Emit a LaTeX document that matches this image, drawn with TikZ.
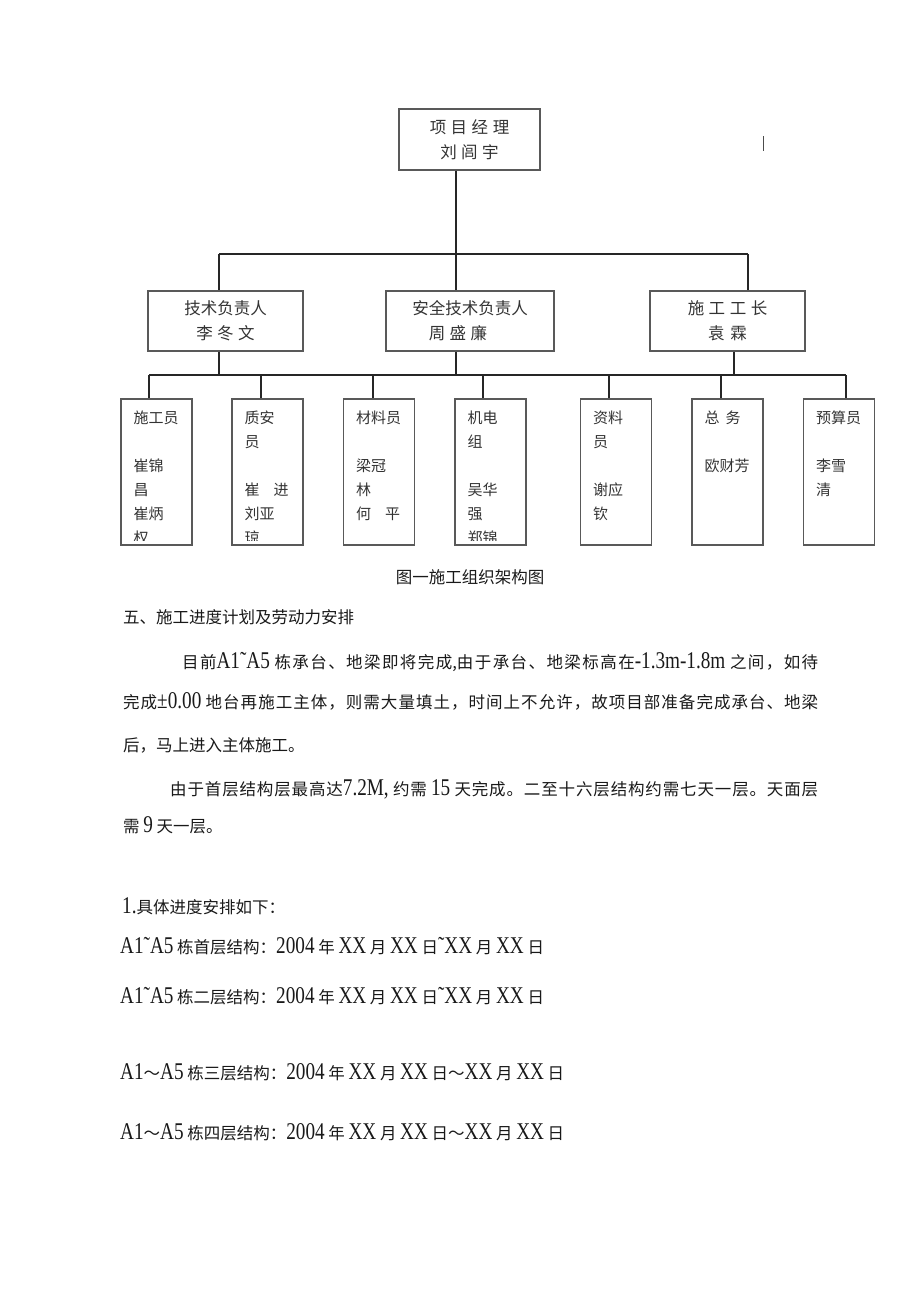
\documentclass[tikz,border=0pt]{standalone}
\usepackage{fontspec}
\setmainfont{Liberation Serif}
\newfontfamily\cjk{Noto Sans CJK SC}
\newfontfamily\latn{Liberation Serif}[FakeStretch=0.8]
\newcommand{\ltn}[1]{{\latn\fontsize{24}{20}\selectfont #1}}
\newcommand{\gp}{\hspace{4.5pt}}
% glue between CJK characters, so that a line can be spread to a given width
\chardef\cjkcls=7
\makeatletter
\count@="4E00 \loop\ifnum\count@<"A000 \XeTeXcharclass\count@=\cjkcls \advance\count@ by 1 \repeat
\count@="3000 \loop\ifnum\count@<"3040 \XeTeXcharclass\count@=\cjkcls \advance\count@ by 1 \repeat
\count@="FF00 \loop\ifnum\count@<"FFF0 \XeTeXcharclass\count@=\cjkcls \advance\count@ by 1 \repeat
\makeatother
\XeTeXinterchartoks\cjkcls\cjkcls={\hskip0pt plus 3pt minus 0.3pt\relax}
\XeTeXinterchartokenstate=1

\begin{document}
\begin{tikzpicture}[x=1pt,y=-1pt,
  box/.style={draw=black!65, line width=1.1pt, inner sep=0pt, align=center, text=black!80,
    font=\cjk\fontsize{16.5}{25}\selectfont},
  staff/.style={draw=black!65, line width=1.1pt, inner sep=0pt, minimum width=71pt, minimum height=146pt},
  namelist/.style={anchor=north west, inner sep=0pt, align=left, text=black!80,
    font=\cjk\fontsize{15}{24}\selectfont},
  wire/.style={draw=black!85, line width=1.5pt},
  body/.style={anchor=base west, inner sep=0pt, text=black!90, font=\cjk\fontsize{16.5}{20}\selectfont}]

\useasboundingbox (0,0) rectangle (920,1301);

% Draw the boxes of the chart
\node[box, minimum width=141pt, minimum height=61pt] (pm) at (469.5,139.5) {项\gp{}目\gp{}经\gp{}理\\刘\gp{}闾\gp{}宇};
\node[box, minimum width=155pt, minimum height=60pt] (tech) at (225.5,321) {技术负责人\\李\gp{}冬\gp{}文};
\node[box, minimum width=168pt, minimum height=60pt] (safe) at (470,321) {安全技术负责人\\周\gp{}盛\gp{}廉\hspace*{24pt}};
\node[box, minimum width=155pt, minimum height=60pt] (boss) at (727.5,321) {施\gp{}工\gp{}工\gp{}长\\袁\hspace{6pt}霖};

\node[staff] (s1) at (156.5,472) {};
\node[staff] (s2) at (267.5,472) {};
\node[staff] (s3) at (379,472) {};
\node[staff] (s4) at (490.5,472) {};
\node[staff] (s5) at (616,472) {};
\node[staff] (s6) at (727.5,472) {};
\node[staff] (s7) at (839,472) {};

% names in the staff boxes, cut at the bottom of the box
\foreach \n/\txt in {s1/{施工员\\[24pt]崔锦\\昌\\崔炳\\权},
                      s2/{质安\\员\\[24pt]崔\hspace{14pt}进\\刘亚\\琼},
                      s3/{材料员\\[24pt]梁冠\\林\\何\hspace{14pt}平},
                      s4/{机电\\组\\[24pt]吴华\\强\\郑锦},
                      s5/{资料\\员\\[24pt]谢应\\钦},
                      s6/{总\hspace{6pt}务\\[24pt]欧财芳},
                      s7/{预算员\\[24pt]李雪\\清}} {
  \begin{scope}
    \clip (\n.north west) rectangle ([yshift=5pt]\n.south east);
    \node[namelist] at ([shift={(13,12.4)}]\n.north west) {\txt};
  \end{scope}
}

% Draw the connectors
\coordinate (t0) at (456,254);
\coordinate (t1) at (219,254);
\coordinate (t3) at (748,254);
\draw[wire] (pm.south -| t0) -- (t0);
\draw[wire] (t1) -- (t3);
\draw[wire] (t1) -- (t1 |- tech.north);
\draw[wire] (t0) -- (t0 |- safe.north);
\draw[wire] (t3) -- (t3 |- boss.north);

\coordinate (d1) at (149,375);
\coordinate (d2) at (261,375);
\coordinate (d3) at (373,375);
\coordinate (d4) at (483,375);
\coordinate (d5) at (609,375);
\coordinate (d6) at (721,375);
\coordinate (d7) at (846,375);
\draw[wire] (tech.south -| t1) -- (t1 |- d1);
\draw[wire] (safe.south -| t0) -- (t0 |- d1);
\draw[wire] (boss.south -| 734,0) -- (734,375);
\draw[wire] (d1) -- (d7);
\foreach \i in {1,...,7}
  \draw[wire] (d\i) -- (d\i |- s\i.north);

% small mark at the top right
\draw[line width=1pt, black!70] (763,136) -- (763,151);

% Caption and text below the chart
\node[body, anchor=base] (cap) at (470,583) {图一施工组织架构图};
\node[body] (sec) at (123,623) {五、施工进度计划及劳动力安排};
\node[body] (p1a) at (182,668) {\makebox[636pt][s]{目前\ltn{A1˜A5} 栋承台、地梁即将完成,由于承台、地梁标高在\ltn{-1.3m-1.8m} 之间，如待}};
\node[body] (p1b) at (123,708) {\makebox[695pt][s]{完成\ltn{±0.00} 地台再施工主体，则需大量填土，时间上不允许，故项目部准备完成承台、地梁}};
\node[body] (p1c) at (123,751) {后，马上进入主体施工。};
\node[body] (p2a) at (170,795) {\makebox[648pt][s]{由于首层结构层最高达\ltn{7.2M,} 约需 \ltn{15} 天完成。二至十六层结构约需七天一层。天面层}};
\node[body] (p2b) at (123,832) {需 \ltn{9} 天一层。};

\node[body] (l0) at (122,913) {\ltn{1.}具体进度安排如下：};
\node[body] (l1) at (120,953) {\ltn{A1˜A5} 栋首层结构：\ltn{2004} 年 \ltn{XX} 月 \ltn{XX} 日\ltn{˜XX} 月 \ltn{XX} 日};
\node[body] (l2) at (120,1003) {\ltn{A1˜A5} 栋二层结构：\ltn{2004} 年 \ltn{XX} 月 \ltn{XX} 日\ltn{˜XX} 月 \ltn{XX} 日};
\node[body] (l3) at (120,1079) {\ltn{A1}～\ltn{A5} 栋三层结构：\ltn{2004} 年 \ltn{XX} 月 \ltn{XX} 日～\ltn{XX} 月 \ltn{XX} 日};
\node[body] (l4) at (120,1139) {\ltn{A1}～\ltn{A5} 栋四层结构：\ltn{2004} 年 \ltn{XX} 月 \ltn{XX} 日～\ltn{XX} 月 \ltn{XX} 日};

\end{tikzpicture}
\end{document}
